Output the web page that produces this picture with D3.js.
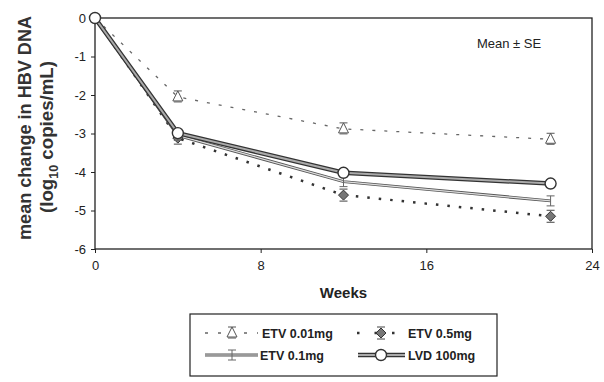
<!DOCTYPE html>
<html><head><meta charset="utf-8">
<script src="https://cdn.jsdelivr.net/npm/d3@7"></script>
<style>body{margin:0;background:#fff;} text{font-family:"Liberation Sans",Arial,sans-serif;}</style>
</head><body><svg id="c" width="604" height="382"></svg>
<script>
const weeks = [0, 4, 12, 22];
const etv001 = [0, -2.05, -2.88, -3.15];
const etv05 = [0, -3.12, -4.6, -5.15];
const etv01 = [0, -3.05, -4.25, -4.75];
const lvd100 = [0, -2.99, -4.02, -4.3];
const xTicks = [0, 8, 16, 24];
const yTicks = [0, -1, -2, -3, -4, -5, -6];
const seriesNames = ["ETV 0.01mg", "ETV 0.5mg", "ETV 0.1mg", "LVD 100mg"];

const svg = d3.select("#c");
const x = d3.scaleLinear().domain([0, 24]).range([95, 592]);
const y = d3.scaleLinear().domain([0, -6]).range([18, 249]);

svg.append("rect").attr("x", 95).attr("y", 18).attr("width", 497).attr("height", 231)
  .attr("fill", "none").attr("stroke", "#222").attr("stroke-width", 1.3);

const ya = svg.append("g").attr("transform", "translate(95,0)")
  .call(d3.axisLeft(y).tickValues(yTicks).tickSize(4).tickFormat(d => String(d)));
ya.select(".domain").remove();
ya.selectAll("text").attr("font-size", 13).attr("fill", "#222").attr("dx", -2);
ya.selectAll("line").attr("stroke", "#222");

const xa = svg.append("g").attr("transform", "translate(0,249)")
  .call(d3.axisBottom(x).tickValues(xTicks).tickSize(4).tickFormat(d => String(d)));
xa.select(".domain").remove();
xa.selectAll("text").attr("font-size", 13).attr("fill", "#222").attr("dy", "1.05em");
xa.selectAll("line").attr("stroke", "#222");

svg.append("text").attr("x", x(12)).attr("y", 298).attr("text-anchor", "middle")
  .attr("font-size", 15).attr("font-weight", "bold").attr("fill", "#222").text("Weeks");

svg.append("text").attr("transform", "translate(31,128) rotate(-90)")
  .attr("text-anchor", "middle").attr("font-size", 19).attr("font-weight", "bold").attr("fill", "#333")
  .attr("textLength", 224).attr("lengthAdjust", "spacingAndGlyphs")
  .text("mean change in HBV DNA");
const yl2 = svg.append("text").attr("transform", "translate(53,137) rotate(-90)")
  .attr("text-anchor", "middle").attr("font-size", 18).attr("font-weight", "bold").attr("fill", "#333")
  .attr("textLength", 152).attr("lengthAdjust", "spacingAndGlyphs");
yl2.append("tspan").text("(log");
yl2.append("tspan").attr("font-size", 12).attr("dy", 5).text("10");
yl2.append("tspan").attr("dy", -5).text(" copies/mL)");

svg.append("text").attr("x", 509).attr("y", 48).attr("text-anchor", "middle")
  .attr("font-size", 13).attr("fill", "#222").text("Mean ± SE");

const line = d3.line().x((d, i) => x(weeks[i])).y(d => y(d));

svg.append("path").datum(etv001).attr("d", line).attr("fill", "none")
  .attr("stroke", "#666").attr("stroke-width", 1.3).attr("stroke-dasharray", "3,9");
svg.append("path").datum(etv05).attr("d", line).attr("fill", "none")
  .attr("stroke", "#333").attr("stroke-width", 2.5).attr("stroke-dasharray", "2.5,9");
svg.append("path").datum(etv01).attr("d", line).attr("fill", "none")
  .attr("stroke", "#555").attr("stroke-width", 3);
svg.append("path").datum(etv01).attr("d", line).attr("fill", "none")
  .attr("stroke", "#ddd").attr("stroke-width", 1.2);
svg.append("path").datum(lvd100).attr("d", line).attr("fill", "none")
  .attr("stroke", "#333").attr("stroke-width", 4.5);
svg.append("path").datum(lvd100).attr("d", line).attr("fill", "none")
  .attr("stroke", "#aaa").attr("stroke-width", 2);

function tri(g, cx, cy) {
  g.append("path").attr("d", `M${cx},${cy-6}L${cx+5},${cy+4}L${cx-5},${cy+4}Z`)
    .attr("fill", "#fff").attr("stroke", "#555").attr("stroke-width", 1);
  g.append("line").attr("x1", cx - 4).attr("x2", cx + 4).attr("y1", cy - 6).attr("y2", cy - 6).attr("stroke", "#555");
  g.append("line").attr("x1", cx - 4).attr("x2", cx + 4).attr("y1", cy + 5).attr("y2", cy + 5).attr("stroke", "#555");
}
function dia(g, cx, cy) {
  g.append("path").attr("d", `M${cx},${cy-5}L${cx+5},${cy}L${cx},${cy+5}L${cx-5},${cy}Z`)
    .attr("fill", "#777").attr("stroke", "#333").attr("stroke-width", 1);
  g.append("line").attr("x1", cx - 4).attr("x2", cx + 4).attr("y1", cy - 6).attr("y2", cy - 6).attr("stroke", "#444");
  g.append("line").attr("x1", cx - 4).attr("x2", cx + 4).attr("y1", cy + 6).attr("y2", cy + 6).attr("stroke", "#444");
}
function cross(g, cx, cy) {
  g.append("path").attr("d", `M${cx-4},${cy-5}L${cx+4},${cy-5}M${cx},${cy-5}L${cx},${cy+5}M${cx-4},${cy+5}L${cx+4},${cy+5}`)
    .attr("fill", "none").attr("stroke", "#666").attr("stroke-width", 1);
}
function circ(g, cx, cy) {
  g.append("circle").attr("cx", cx).attr("cy", cy).attr("r", 5.5)
    .attr("fill", "#fff").attr("stroke", "#333").attr("stroke-width", 1.4);
}
const mk = svg.append("g");
weeks.forEach((w, i) => {
  if (i > 0) {
    tri(mk, x(w), y(etv001[i]));
    dia(mk, x(w), y(etv05[i]));
    cross(mk, x(w), y(etv01[i]));
  }
  circ(mk, x(w), y(lvd100[i]));
});

// legend
svg.append("rect").attr("x", 190).attr("y", 314).attr("width", 307).attr("height", 62)
  .attr("fill", "#fff").attr("stroke", "#222").attr("stroke-width", 1.2);
const lg = svg.append("g");
const r1 = 333, r2 = 355;
lg.append("line").attr("x1", 205).attr("x2", 258).attr("y1", r1).attr("y2", r1)
  .attr("stroke", "#666").attr("stroke-width", 1.3).attr("stroke-dasharray", "3,10");
tri(lg, 232, r1);
lg.append("line").attr("x1", 357).attr("x2", 405).attr("y1", r1).attr("y2", r1)
  .attr("stroke", "#333").attr("stroke-width", 2.5).attr("stroke-dasharray", "2.5,15");
dia(lg, 381, r1);
lg.append("line").attr("x1", 205).attr("x2", 258).attr("y1", r2).attr("y2", r2)
  .attr("stroke", "#555").attr("stroke-width", 3);
lg.append("line").attr("x1", 205).attr("x2", 258).attr("y1", r2).attr("y2", r2)
  .attr("stroke", "#ddd").attr("stroke-width", 1.2);
cross(lg, 232, r2);
lg.append("line").attr("x1", 358).attr("x2", 405).attr("y1", r2).attr("y2", r2)
  .attr("stroke", "#333").attr("stroke-width", 4.5);
lg.append("line").attr("x1", 358).attr("x2", 405).attr("y1", r2).attr("y2", r2)
  .attr("stroke", "#aaa").attr("stroke-width", 2);
circ(lg, 381, r2);
const tpos = [[262, r1], [408, r1], [260, r2], [408, r2]];
seriesNames.forEach((nm, i) => {
  lg.append("text").attr("x", tpos[i][0]).attr("y", tpos[i][1] + 4.5).attr("font-size", 12.5).attr("font-weight", "bold")
    .attr("fill", "#222").text(nm);
});
</script></body></html>
